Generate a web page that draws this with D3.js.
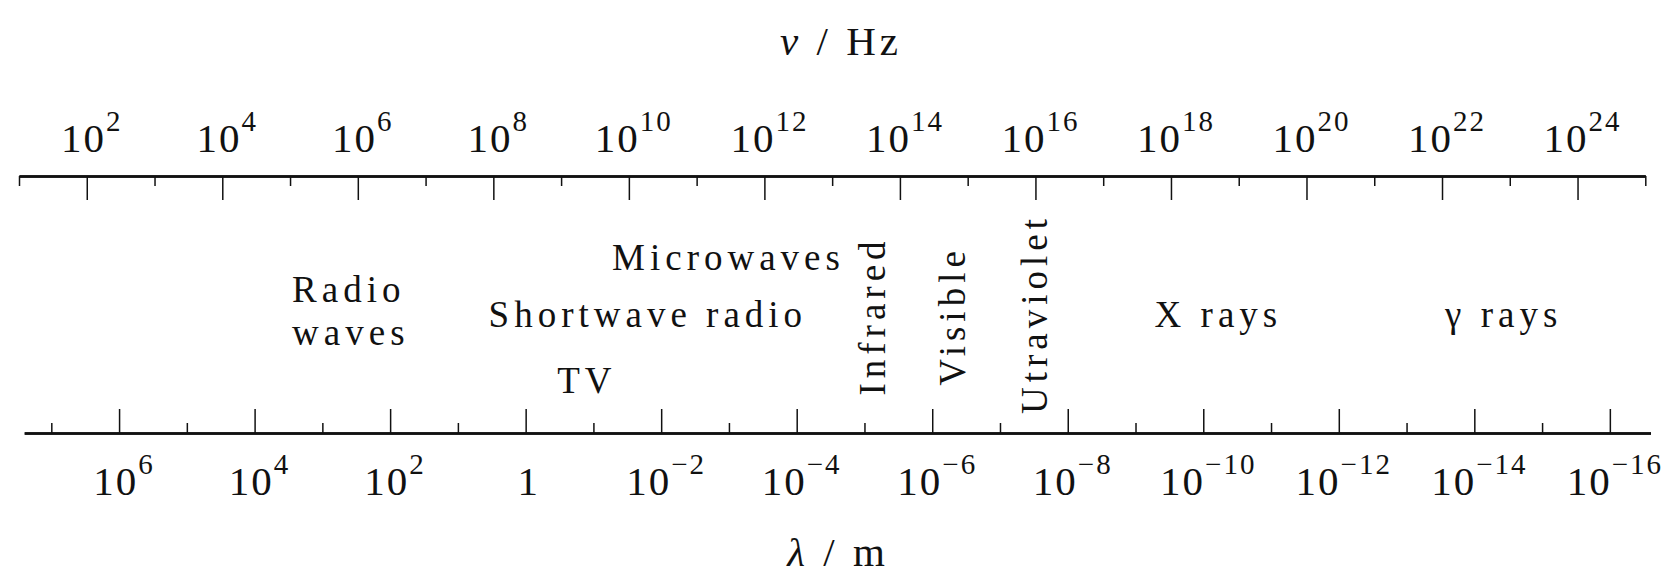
<!DOCTYPE html>
<html><head><meta charset="utf-8">
<script src="https://cdn.jsdelivr.net/npm/d3@7"></script>
<style>
html,body{margin:0;padding:0;background:#fff;}
svg{display:block;}
text{font-family:"Liberation Serif","DejaVu Serif","Times New Roman",serif;fill:#111;}
</style></head><body>
<svg id="chart" width="1663" height="575"></svg>
<script>
// ---------- data ----------
const speedOfLight = 2.998e8;                 // m/s, links ν and λ
const freqExtentExp = [1, 25];                // top axis spans 10^1 .. 10^25 Hz
const freqMajorExp = [2, 4, 6, 8, 10, 12, 14, 16, 18, 20, 22, 24];
const freqMinorExp = [1, 3, 5, 7, 9, 11, 13, 15, 17, 19, 21, 23, 25];
const waveExtentExp = [7.4, -16.6];           // bottom axis line extent (m)
const waveMajorExp = [6, 4, 2, 0, -2, -4, -6, -8, -10, -12, -14, -16];
const waveMinorExp = [7, 5, 3, 1, -1, -3, -5, -7, -9, -11, -13, -15];
const bandNames = ["Radio", "waves", "Shortwave radio", "Microwaves", "TV",
                   "Infrared", "Visible", "Utraviolet", "X rays", "γ rays"];
const bandLogFreq = [5.03, 5.03, 10.28, 11.47, 9.38, 13.78, 14.96, 16.17, 18.70, 22.91];
const topTitle = ["ν", " / Hz"];
const bottomTitle = ["λ", " / m"];

// ---------- layout (positions / styles) ----------
const L = {
  topLine: 176, botLine: 433,
  majorLen: 24, minorLen: 10,
  topLabelY: 152, botLabelY: 495, labelShift: 5,
  tickFont: 41, supFont: 29, supRise: 21, tickLS: 2,
  bandFont: 37, bandLS: 5,
  titleFont: 41, titleLS: 4
};
// per band label: y (baseline or center for rotated), anchor, rotated
const bandLayout = [
  {y: 302, anchor: "start"}, {y: 345, anchor: "start"},
  {y: 327, anchor: "middle"}, {y: 270, anchor: "middle"}, {y: 393, anchor: "middle"},
  {y: 316, anchor: "middle", rot: true}, {y: 316, anchor: "middle", rot: true},
  {y: 314, anchor: "middle", rot: true},
  {y: 327, anchor: "middle"}, {y: 327, anchor: "middle"}
];

const svg = d3.select("#chart");

// frequency scale (log)
const x = d3.scaleLog()
  .domain(freqExtentExp.map(e => Math.pow(10, e)))
  .range([19, 1645.3]);

// wavelength scale: same geometry through ν = c/λ
const waveDomain = waveExtentExp.map(e => Math.pow(10, e));
const xl = d3.scaleLog()
  .domain(waveDomain)
  .range(waveDomain.map(l => x(speedOfLight / l)));

const stroke = "#111";

// ---------- top axis ----------
const topG = svg.append("g").attr("transform", `translate(0,${L.topLine})`);
topG.append("g").call(
  d3.axisBottom(x).tickValues(freqMinorExp.map(e => Math.pow(10, e)))
    .tickSize(L.minorLen).tickSizeOuter(0).tickFormat(""));
topG.append("g").call(
  d3.axisBottom(x).tickValues(freqMajorExp.map(e => Math.pow(10, e)))
    .tickSize(L.majorLen).tickSizeOuter(0).tickFormat(""));
topG.selectAll(".domain").attr("stroke", stroke).attr("stroke-width", 2.6);
topG.selectAll(".tick line").attr("stroke", stroke).attr("stroke-width", 1.5);

// ---------- bottom axis ----------
const botG = svg.append("g").attr("transform", `translate(0,${L.botLine})`);
botG.append("g").call(
  d3.axisTop(xl).tickValues(waveMinorExp.map(e => Math.pow(10, e)))
    .tickSize(L.minorLen).tickSizeOuter(0).tickFormat(""));
botG.append("g").call(
  d3.axisTop(xl).tickValues(waveMajorExp.map(e => Math.pow(10, e)))
    .tickSize(L.majorLen).tickSizeOuter(0).tickFormat(""));
botG.selectAll(".domain").attr("stroke", stroke).attr("stroke-width", 2.6);
botG.selectAll(".tick line").attr("stroke", stroke).attr("stroke-width", 1.5);

// ---------- tick labels ----------
function powLabel(sel, exp) {
  if (exp === 0) { sel.append("tspan").text("1"); return; }
  sel.append("tspan").text("10");
  sel.append("tspan")
    .attr("dy", -L.supRise)
    .style("font-size", L.supFont + "px")
    .text(exp < 0 ? "\u2212" + (-exp) : String(exp));
}
svg.append("g").selectAll("text").data(freqMajorExp).join("text")
  .attr("x", e => x(Math.pow(10, e)) + L.labelShift)
  .attr("y", L.topLabelY)
  .attr("text-anchor", "middle")
  .style("font-size", L.tickFont + "px")
  .style("letter-spacing", L.tickLS + "px")
  .each(function (e) { powLabel(d3.select(this), e); });

svg.append("g").selectAll("text").data(waveMajorExp).join("text")
  .attr("x", e => xl(Math.pow(10, e)) + (e === 0 ? 3 : L.labelShift))
  .attr("y", L.botLabelY)
  .attr("text-anchor", "middle")
  .style("font-size", L.tickFont + "px")
  .style("letter-spacing", L.tickLS + "px")
  .each(function (e) { powLabel(d3.select(this), e); });

// ---------- band labels ----------
svg.append("g").selectAll("text").data(bandNames).join("text")
  .attr("transform", (d, i) => {
    const px = x(Math.pow(10, bandLogFreq[i]));
    const lay = bandLayout[i];
    return lay.rot ? `translate(${px},${lay.y}) rotate(-90)` : `translate(${px},${lay.y})`;
  })
  .attr("text-anchor", (d, i) => bandLayout[i].anchor)
  .style("font-size", L.bandFont + "px")
  .style("letter-spacing", L.bandLS + "px")
  .text(d => d);

// ---------- axis titles ----------
function title(parts, cx, y) {
  const t = svg.append("text")
    .attr("x", cx).attr("y", y)
    .attr("text-anchor", "middle")
    .style("font-size", L.titleFont + "px")
    .style("letter-spacing", L.titleLS + "px");
  t.append("tspan").style("font-style", "italic").text(parts[0]);
  t.append("tspan").text(parts[1]);
}
title(topTitle, 841, 55);
title(bottomTitle, 838, 566);
</script>
</body></html>
